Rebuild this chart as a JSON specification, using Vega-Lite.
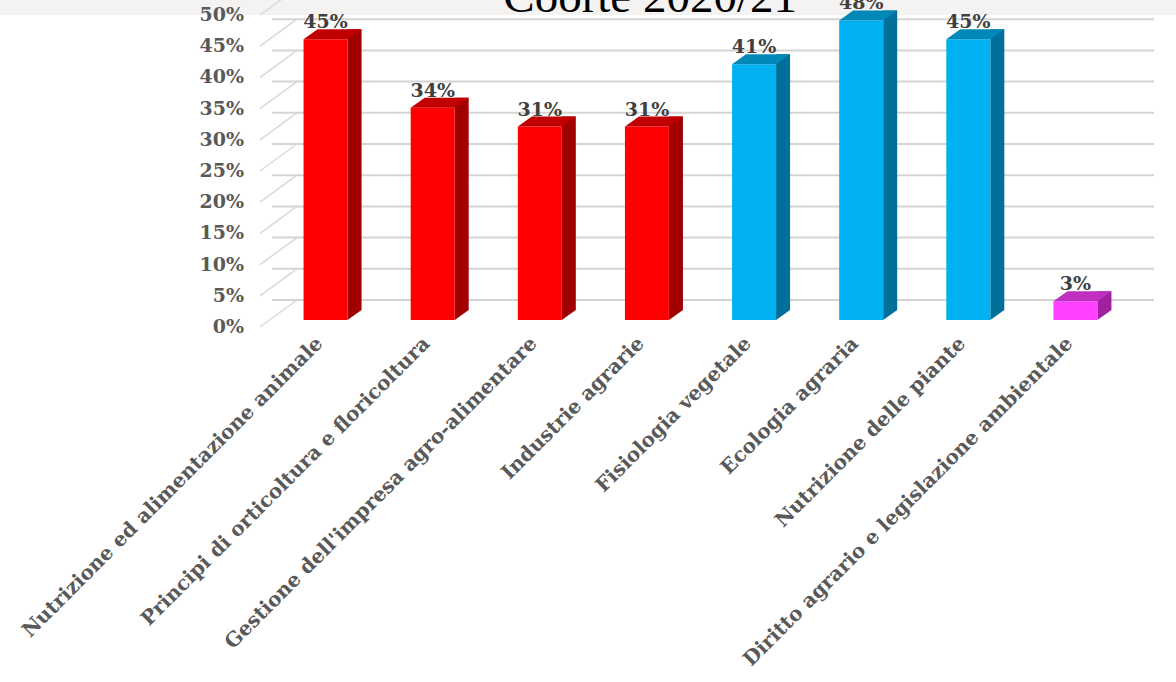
{
  "$schema": "https://vega.github.io/schema/vega-lite/v6.json",
  "autosize": "none",
  "width": 857,
  "height": 312,
  "padding": {"left": 272, "top": 8, "right": 47, "bottom": 362},
  "background": "#ffffff",
  "config": {
    "view": {"stroke": null},
    "axisY": {"disable": true}
  },
  "datasets": {
    "bars": [
      {"materia": "Nutrizione ed alimentazione animale", "quota": 0.45, "grp": "r"},
      {"materia": "Principi di orticoltura e floricoltura", "quota": 0.34, "grp": "r"},
      {"materia": "Gestione dell'impresa agro-alimentare", "quota": 0.31, "grp": "r"},
      {"materia": "Industrie agrarie", "quota": 0.31, "grp": "r"},
      {"materia": "Fisiologia vegetale", "quota": 0.41, "grp": "b"},
      {"materia": "Ecologia agraria", "quota": 0.48, "grp": "b"},
      {"materia": "Nutrizione delle piante", "quota": 0.45, "grp": "b"},
      {"materia": "Diritto agrario e legislazione ambientale", "quota": 0.03, "grp": "m"}
    ],
    "ticks": [
      {"t": 0}, {"t": 0.05}, {"t": 0.1}, {"t": 0.15}, {"t": 0.2}, {"t": 0.25},
      {"t": 0.3}, {"t": 0.35}, {"t": 0.4}, {"t": 0.45}, {"t": 0.5}
    ],
    "titolo": [{"testo": "Coorte 2020/21"}]
  },
  "layer": [
    {
      "data": {"name": "titolo"},
      "mark": {"type": "rect", "color": "#f4f3f1"},
      "encoding": {
        "x": {"datum": "Nutrizione ed alimentazione animale", "type": "nominal", "bandPosition": -2.6,
          "scale": {
            "domain": [
              "Nutrizione ed alimentazione animale",
              "Principi di orticoltura e floricoltura",
              "Gestione dell'impresa agro-alimentare",
              "Industrie agrarie",
              "Fisiologia vegetale",
              "Ecologia agraria",
              "Nutrizione delle piante",
              "Diritto agrario e legislazione ambientale"
            ],
            "paddingInner": 0, "paddingOuter": 0
          },
          "axis": {
            "title": null, "domain": false, "ticks": false, "labelAngle": -45,
            "labelAlign": "right", "labelBaseline": "middle", "labelPadding": 20, "labelLimit": 0,
            "labelOffset": -6, "labelOverlap": false,
            "labelFont": "DejaVu Serif", "labelFontWeight": "bold", "labelFontSize": 20, "labelColor": "#595959"
          }
        },
        "x2": {"datum": "Diritto agrario e legislazione ambientale", "bandPosition": 1.5},
        "y": {"datum": 0.5135, "type": "quantitative", "scale": {"domain": [0, 0.5], "nice": false}},
        "y2": {"datum": 0.4888}
      }
    },
    {
      "data": {"name": "ticks"},
      "mark": {"type": "rule", "color": "#d4d4d4", "strokeWidth": 2, "yOffset": -20, "xOffset": 25},
      "encoding": {
        "y": {"field": "t", "type": "quantitative"}
      }
    },
    {
      "data": {"name": "ticks"},
      "mark": {"type": "rule", "color": "#d9d9d9", "strokeWidth": 1.5, "yOffset": 7, "y2Offset": -20},
      "encoding": {
        "x": {"datum": "Nutrizione ed alimentazione animale", "type": "nominal", "bandPosition": -0.112},
        "x2": {"datum": "Nutrizione ed alimentazione animale", "bandPosition": 0.233},
        "y": {"field": "t", "type": "quantitative"},
        "y2": {"field": "t"}
      }
    },
    {
      "data": {"name": "ticks"},
      "mark": {"type": "text", "align": "right", "baseline": "middle", "dy": 7,
        "font": "DejaVu Serif", "fontWeight": "bold", "fontSize": 19, "color": "#595959"},
      "encoding": {
        "x": {"datum": "Nutrizione ed alimentazione animale", "type": "nominal", "bandPosition": -0.2614},
        "y": {"field": "t", "type": "quantitative"},
        "text": {"field": "t", "type": "quantitative", "format": ".0%"}
      }
    },
    {
      "data": {"name": "bars"},
      "mark": {"type": "bar", "width": 14, "xOffset": 29, "yOffset": -10, "y2Offset": -10},
      "encoding": {
        "x": {"field": "materia", "type": "nominal", "sort": null},
        "y": {"field": "quota", "type": "quantitative"},
        "y2": {"datum": 0},
        "color": {"field": "grp", "type": "nominal", "legend": null,
          "scale": {"domain": ["r", "b", "m"], "range": ["#A00000", "#00709A", "#A020A0"]}}
      }
    },
    {
      "data": {"name": "bars"},
      "mark": {"type": "point", "filled": true, "opacity": 1, "strokeWidth": 0, "size": 1600,
        "shape": "M1.1,0L1.1,-0.5L1.8,-0.5Z"},
      "encoding": {
        "x": {"field": "materia", "type": "nominal", "sort": null},
        "y": {"datum": 0},
        "color": {"field": "grp", "type": "nominal", "legend": null,
          "scale": {"domain": ["r", "b", "m"], "range": ["#A00000", "#00709A", "#A020A0"]}}
      }
    },
    {
      "data": {"name": "bars"},
      "mark": {"type": "bar", "width": 44},
      "encoding": {
        "x": {"field": "materia", "type": "nominal", "sort": null},
        "y": {"field": "quota", "type": "quantitative"},
        "y2": {"datum": 0},
        "color": {"field": "grp", "type": "nominal", "legend": null,
          "scale": {"domain": ["r", "b", "m"], "range": ["#FF0000", "#00B0F0", "#FF40FF"]}}
      }
    },
    {
      "data": {"name": "bars"},
      "mark": {"type": "point", "filled": true, "opacity": 1, "strokeWidth": 0, "size": 1600,
        "shape": "M-1.1,0L1.1,0L1.8,-0.5L-0.4,-0.5Z"},
      "encoding": {
        "x": {"field": "materia", "type": "nominal", "sort": null},
        "y": {"field": "quota", "type": "quantitative"},
        "color": {"field": "grp", "type": "nominal", "legend": null,
          "scale": {"domain": ["r", "b", "m"], "range": ["#C00000", "#0088B8", "#C030C0"]}}
      }
    },
    {
      "data": {"name": "bars"},
      "mark": {"type": "text", "dy": -11, "baseline": "alphabetic", "align": "center",
        "font": "DejaVu Serif", "fontWeight": "bold", "fontSize": 19, "color": "#404040"},
      "encoding": {
        "x": {"field": "materia", "type": "nominal", "sort": null},
        "y": {"field": "quota", "type": "quantitative"},
        "text": {"field": "quota", "type": "quantitative", "format": ".0%"}
      }
    },
    {
      "data": {"name": "titolo"},
      "mark": {"type": "text", "align": "center", "baseline": "alphabetic", "dy": 4,
        "font": "Liberation Serif", "fontSize": 47, "color": "#000000"},
      "encoding": {
        "x": {"datum": "Industrie agrarie", "type": "nominal", "bandPosition": 0.53},
        "y": {"datum": 0.5, "type": "quantitative"},
        "text": {"field": "testo", "type": "nominal"}
      }
    }
  ],
  "resolve": {"scale": {"color": "independent"}}
}
